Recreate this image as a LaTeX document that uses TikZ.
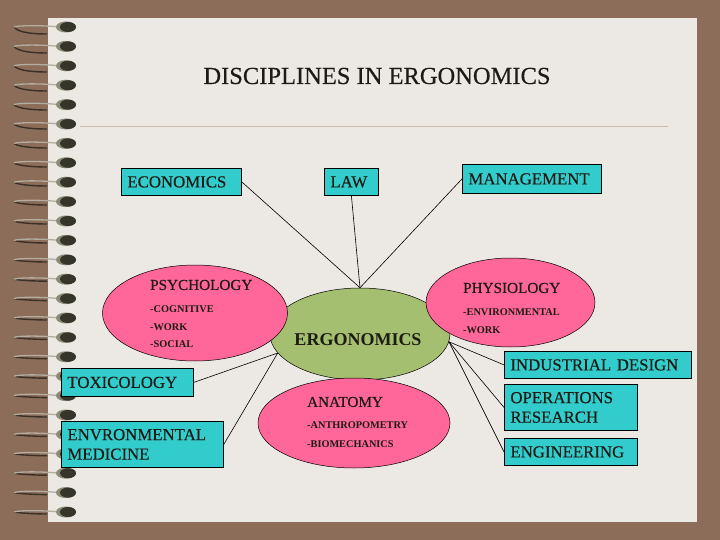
\documentclass[tikz,border=0pt]{standalone}
\usepackage{fontspec}
\setmainfont{Liberation Serif}
\newfontfamily\heavyserif{Liberation Serif}[FakeBold=0.35]
\usetikzlibrary{shapes.geometric}
\definecolor{bgbrown}{HTML}{8C6D5A}
\definecolor{paper}{HTML}{ECE8E4}
\definecolor{cyanbox}{HTML}{33CCCC}
\definecolor{pinkell}{HTML}{FF6699}
\definecolor{greenell}{HTML}{A3BF6F}
\definecolor{rulec}{HTML}{CDBFAA}
\definecolor{wirelight}{HTML}{B4ADA2}
\definecolor{wiredark}{HTML}{3A3028}
\definecolor{beadlight}{HTML}{8E8A76}
\definecolor{beaddark}{HTML}{35352B}
\definecolor{inkc}{HTML}{1E1A14}
\begin{document}
\begin{tikzpicture}[x=1pt,y=-1pt,
  box/.style={draw=black, line width=0.8pt, fill=cyanbox, rectangle, anchor=north west,
    inner xsep=6pt, inner ysep=0pt, align=left, text=inkc, font=\heavyserif\fontsize{16.8}{19.5}\selectfont},
  blob/.style={draw=black, line width=0.5pt, ellipse, inner sep=0pt},
  head/.style={anchor=west, inner sep=0pt, text=inkc, font=\heavyserif\fontsize{15.2}{18}\selectfont},
  item/.style={anchor=west, inner sep=0pt, text=inkc, font=\fontsize{10.3}{12}\selectfont\bfseries},
  link/.style={draw=black, line width=0.6pt}]
\useasboundingbox (0,0) rectangle (720,540);
\fill[bgbrown] (0,0) rectangle (720,540);
\fill[paper] (48,18) rectangle (697,522);
% spiral binding
\foreach \i in {0,...,25}{
  \pgfmathsetmacro\yy{27+19.4*\i}
  \pgfmathsetmacro\spread{max(1,6-0.4*\i)}
  \draw[wiredark, line width=1.4pt] (14,\yy) .. controls (18,\yy+\spread) and (35,\yy+\spread+1) .. (47,\yy+\spread+1);
  \draw[wirelight, line width=1.3pt] (60,\yy) .. controls (38,\yy-2) and (18,\yy-1.5) .. (14,\yy);
  \fill[beadlight] (66,\yy) ellipse (10 and 5.5);
  \fill[beaddark] (68,\yy) ellipse (8 and 5);
}
% title and rule
\node[inner sep=0pt, text=inkc, font=\heavyserif\fontsize{24.5}{29}\selectfont] (title) at (377,76) {DISCIPLINES IN ERGONOMICS};
\draw[rulec, line width=0.8pt] (80,126) -- (668,126);
% central and surrounding ellipses
\node[blob, fill=greenell, minimum width=180pt, minimum height=92pt] (ergo) at (360,334) {};
\node[inner sep=0pt, text=inkc, font=\fontsize{18}{22}\selectfont\bfseries] (ergot) at (358,340) {ERGONOMICS};
\node[blob, fill=pinkell, minimum width=185pt, minimum height=96pt] (psy) at (195,313) {};
\node[head] (psyt) at (150,285) {PSYCHOLOGY};
\node[item] (psy1) at (150,309) {-COGNITIVE};
\node[item] (psy2) at (150,327) {-WORK};
\node[item] (psy3) at (150,344) {-SOCIAL};
\node[blob, fill=pinkell, minimum width=169pt, minimum height=89pt] (phy) at (510.5,302.5) {};
\node[head] (phyt) at (463,288) {PHYSIOLOGY};
\node[item] (phy1) at (463,312) {-ENVIRONMENTAL};
\node[item] (phy2) at (463,330) {-WORK};
\node[blob, fill=pinkell, minimum width=192pt, minimum height=90pt] (ana) at (354,423) {};
\node[head] (anat) at (307,402) {ANATOMY};
\node[item] (ana1) at (307,425) {-ANTHROPOMETRY};
\node[item] (ana2) at (307,444) {-BIOMECHANICS};
% boxes
\node[box, text width=108pt, minimum height=27pt] (eco) at (121,168) {ECONOMICS};
\node[box, text width=42pt, minimum height=27pt] (law) at (324,168) {LAW};
\node[box, text width=127pt, minimum height=29pt] (man) at (462,164) {MANAGEMENT};
\node[box, text width=120pt, minimum height=28pt] (tox) at (61,368) {TOXICOLOGY};
\node[box, text width=150pt, minimum height=46pt] (env) at (61,421) {ENVRONMENTAL\\MEDICINE};
\node[box, text width=175pt, minimum height=27pt] (ind) at (504,351) {INDUSTRIAL DESIGN};
\node[box, text width=121pt, minimum height=46pt] (ops) at (504,384) {OPERATIONS\\RESEARCH};
\node[box, text width=121pt, minimum height=27pt] (eng) at (504,438) {ENGINEERING};
% connectors
\draw[link] (eco.east) -- (ergo.north);
\draw[link] (law.south) -- (ergo.north);
\draw[link] (man.west) -- (ergo.north);
\draw[link] (tox.east) -- (ergo.193);
\draw[link] (env.east) -- (ergo.193);
\draw[link] (ind.west) -- (ergo.355);
\draw[link] (ops.west) -- (ergo.355);
\draw[link] (eng.west) -- (ergo.355);
\end{tikzpicture}
\end{document}
